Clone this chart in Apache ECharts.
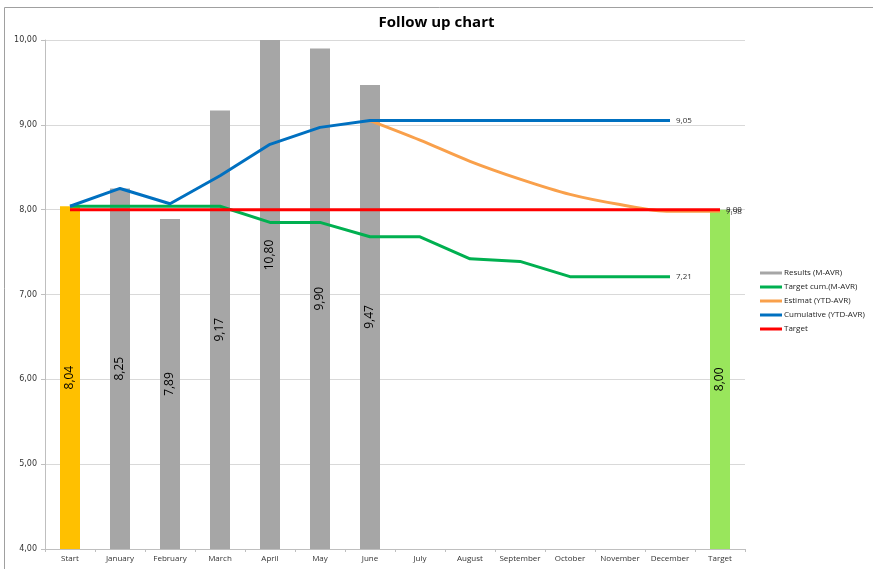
<!DOCTYPE html>
<html>
<head>
<meta charset="utf-8">
<script src="https://cdn.jsdelivr.net/npm/echarts@6/dist/echarts.min.js"></script>
<style>
  html, body { margin: 0; padding: 0; background: #fff; }
  #chart { width: 873px; height: 569px; }
</style>
</head>
<body>
<div id="chart"></div>
<script>
const categories = ['Start', 'January', 'February', 'March', 'April', 'May', 'June',
  'July', 'August', 'September', 'October', 'November', 'December', 'Target'];
const results = [8.04, 8.25, 7.89, 9.17, 10.80, 9.90, 9.47, null, null, null, null, null, null, 8.00];
const targetCum = [8.04, 8.04, 8.04, 8.04, 7.85, 7.85, 7.68, 7.68, 7.42, 7.39, 7.21, 7.21, 7.21, null];
const estimat = [null, null, null, null, null, null, 9.05, 8.82, 8.57, 8.36, 8.18, 8.06, 7.98, 7.98];
const cumulative = [8.04, 8.25, 8.07, 8.40, 8.77, 8.97, 9.05, 9.05, 9.05, 9.05, 9.05, 9.05, 9.05, null];
const target = [8, 8, 8, 8, 8, 8, 8, 8, 8, 8, 8, 8, 8, 8];
const yTicks = [4, 5, 6, 7, 8, 9, 10];

const fmt = v => Number(v).toFixed(2).replace('.', ',');
const font = '"Open Sans", sans-serif';

const barColor = i => i === 0 ? '#FFC000' : (i === categories.length - 1 ? '#99E65C' : '#A6A6A6');

const myChart = echarts.init(document.getElementById('chart'));

// bar values above the axis max are clipped; put their label where the full bar's middle would be
const barData = results.map((v, i) => {
  const item = { value: v, itemStyle: { color: barColor(i) } };
  if (v != null && v > yTicks[yTicks.length - 1]) {
    item.label = { position: [10, 215], align: 'center', verticalAlign: 'middle' };
  }
  return item;
});

const endLabel = { show: true, fontSize: 8, color: '#333', distance: 6, formatter: p => fmt(p.value) };

const option = {
  backgroundColor: '#fff',
  animation: false,
  textStyle: { fontFamily: font },
  title: {
    text: 'Follow up chart',
    left: 'center',
    top: 10,
    textStyle: { fontSize: 15, fontWeight: 'bold', color: '#000', fontFamily: font }
  },
  graphic: [{
    type: 'rect',
    shape: { x: 4.5, y: 7.5, width: 900, height: 600 },
    style: { fill: 'none', stroke: '#A0A0A0', lineWidth: 1 },
    silent: true
  }],
  legend: {
    orient: 'vertical',
    left: 755,
    top: 264,
    itemWidth: 22,
    itemHeight: 3,
    itemGap: 6,
    textStyle: { fontSize: 8, color: '#222', padding: [0, 0, 0, -3] },
    data: [
      { name: 'Results (M-AVR)', icon: 'rect', itemStyle: { color: '#A6A6A6' } },
      { name: 'Target cum.(M-AVR)', icon: 'rect' },
      { name: 'Estimat (YTD-AVR)', icon: 'rect' },
      { name: 'Cumulative (YTD-AVR)', icon: 'rect' },
      { name: 'Target', icon: 'rect' }
    ]
  },
  grid: { left: 45, right: 128, top: 40, bottom: 20 },
  xAxis: {
    type: 'category',
    data: categories,
    boundaryGap: true,
    axisLine: { lineStyle: { color: '#BFBFBF' } },
    axisTick: { show: true, alignWithLabel: false, length: 3, lineStyle: { color: '#BFBFBF' } },
    axisLabel: { fontSize: 8, color: '#333', margin: 6, interval: 0 }
  },
  yAxis: {
    type: 'value',
    min: yTicks[0],
    max: yTicks[yTicks.length - 1],
    interval: 1,
    axisLine: { show: true, lineStyle: { color: '#BFBFBF' } },
    axisTick: { show: true, length: 4, lineStyle: { color: '#BFBFBF' } },
    axisLabel: { fontSize: 8, color: '#333', margin: 8, fontFamily: '"DejaVu Sans", sans-serif', formatter: fmt },
    splitLine: { lineStyle: { color: '#D9D9D9' } }
  },
  series: [
    {
      name: 'Results (M-AVR)',
      type: 'bar',
      barWidth: 20,
      itemStyle: { color: '#A6A6A6' },
      data: barData,
      label: {
        show: true,
        position: 'inside',
        rotate: 90,
        fontSize: 12,
        color: '#000',
        formatter: p => fmt(p.value)
      },
      z: 1
    },
    {
      name: 'Target cum.(M-AVR)',
      type: 'line',
      data: targetCum,
      symbol: 'none',
      lineStyle: { color: '#00B050', width: 3 },
      itemStyle: { color: '#00B050' },
      endLabel: endLabel,
      z: 3
    },
    {
      name: 'Estimat (YTD-AVR)',
      type: 'line',
      data: estimat,
      symbol: 'none',
      smooth: 0.3,
      lineStyle: { color: '#F9A04B', width: 3 },
      itemStyle: { color: '#F9A04B' },
      endLabel: endLabel,
      z: 3
    },
    {
      name: 'Cumulative (YTD-AVR)',
      type: 'line',
      data: cumulative,
      symbol: 'none',
      lineStyle: { color: '#0070C0', width: 3 },
      itemStyle: { color: '#0070C0' },
      endLabel: endLabel,
      z: 3
    },
    {
      name: 'Target',
      type: 'line',
      data: target,
      symbol: 'none',
      lineStyle: { color: '#FF0000', width: 3 },
      itemStyle: { color: '#FF0000' },
      endLabel: endLabel,
      z: 4
    }
  ]
};
myChart.setOption(option);
window.addEventListener('resize', () => myChart.resize());
</script>
</body>
</html>
